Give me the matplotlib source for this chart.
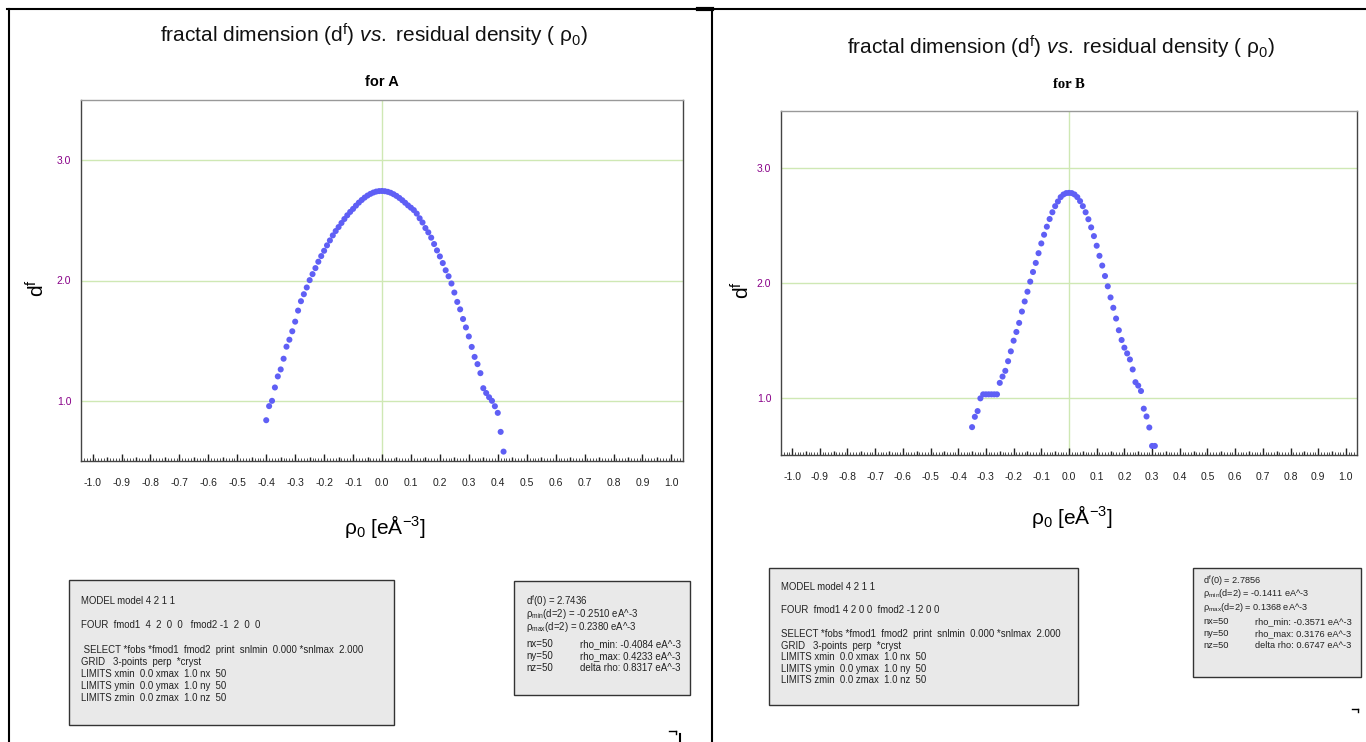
import matplotlib
matplotlib.use('Agg')
import matplotlib.pyplot as plt
from matplotlib.lines import Line2D
from matplotlib.patches import Rectangle
from matplotlib.ticker import MultipleLocator, FixedLocator

plt.rcParams['font.family'] = ['Liberation Sans', 'DejaVu Sans']
plt.rcParams['mathtext.fontset'] = 'custom'
plt.rcParams['mathtext.rm'] = 'Liberation Sans'
plt.rcParams['mathtext.it'] = 'Liberation Sans:italic'
plt.rcParams['mathtext.bf'] = 'Liberation Sans:bold'
plt.rcParams['mathtext.default'] = 'regular'

# fractal dimension vs residual density, structure A
rho_a = [-0.40, -0.39, -0.38, -0.37, -0.36, -0.35, -0.34, -0.33, -0.32, -0.31,
         -0.30, -0.29, -0.28, -0.27, -0.26, -0.25, -0.24, -0.23, -0.22, -0.21,
         -0.20, -0.19, -0.18, -0.17, -0.16, -0.15, -0.14, -0.13, -0.12, -0.11,
         -0.10, -0.09, -0.08, -0.07, -0.06, -0.05, -0.04, -0.03, -0.02, -0.01,
         0.00, 0.01, 0.02, 0.03, 0.04, 0.05, 0.06, 0.07, 0.08, 0.09,
         0.10, 0.11, 0.12, 0.13, 0.14, 0.15, 0.16, 0.17, 0.18, 0.19,
         0.20, 0.21, 0.22, 0.23, 0.24, 0.25, 0.26, 0.27, 0.28, 0.29,
         0.30, 0.31, 0.32, 0.33, 0.34, 0.35, 0.36, 0.37, 0.38, 0.39,
         0.40, 0.41, 0.42]
df_a = [0.839, 0.956, 1.000, 1.111, 1.203, 1.261, 1.350, 1.450, 1.508, 1.578,
        1.658, 1.750, 1.828, 1.886, 1.942, 2.003, 2.053, 2.103, 2.156, 2.203,
        2.247, 2.292, 2.333, 2.375, 2.411, 2.444, 2.478, 2.511, 2.542, 2.570,
        2.595, 2.622, 2.647, 2.669, 2.689, 2.706, 2.720, 2.731, 2.739, 2.743,
        2.744, 2.742, 2.737, 2.729, 2.717, 2.703, 2.686, 2.667, 2.646, 2.624,
        2.605, 2.585, 2.556, 2.517, 2.482, 2.436, 2.400, 2.356, 2.303, 2.250,
        2.200, 2.145, 2.085, 2.035, 1.975, 1.900, 1.822, 1.760, 1.680, 1.610,
        1.535, 1.448, 1.365, 1.305, 1.230, 1.105, 1.065, 1.030, 1.000, 0.955,
        0.900, 0.742, 0.578]

# structure B
rho_b = [-0.35, -0.34, -0.33, -0.32, -0.31, -0.30, -0.29, -0.28, -0.27, -0.26,
         -0.25, -0.24, -0.23, -0.22, -0.21, -0.20, -0.19, -0.18, -0.17, -0.16,
         -0.15, -0.14, -0.13, -0.12, -0.11, -0.10, -0.09, -0.08, -0.07, -0.06,
         -0.05, -0.04, -0.03, -0.02, -0.01, 0.00, 0.01, 0.02, 0.03, 0.04,
         0.05, 0.06, 0.07, 0.08, 0.09, 0.10, 0.11, 0.12, 0.13, 0.14,
         0.15, 0.16, 0.17, 0.18, 0.19, 0.20, 0.21, 0.22, 0.23, 0.24,
         0.25, 0.26, 0.27, 0.28, 0.29, 0.30, 0.31]
df_b = [0.743, 0.833, 0.883, 0.994, 1.029, 1.029, 1.029, 1.029, 1.029, 1.029,
        1.129, 1.184, 1.234, 1.318, 1.404, 1.497, 1.573, 1.652, 1.751, 1.839,
        1.924, 2.012, 2.096, 2.175, 2.260, 2.345, 2.421, 2.491, 2.558, 2.617,
        2.670, 2.711, 2.749, 2.772, 2.784, 2.786, 2.784, 2.772, 2.749, 2.714,
        2.670, 2.617, 2.556, 2.485, 2.409, 2.325, 2.237, 2.152, 2.061, 1.971,
        1.874, 1.784, 1.690, 1.588, 1.503, 1.436, 1.386, 1.333, 1.246, 1.135,
        1.105, 1.058, 0.904, 0.836, 0.740, 0.579, 0.579]

x_ticks = [-1.0, -0.9, -0.8, -0.7, -0.6, -0.5, -0.4, -0.3, -0.2, -0.1, 0.0,
           0.1, 0.2, 0.3, 0.4, 0.5, 0.6, 0.7, 0.8, 0.9, 1.0]
half_ticks = [-0.95, -0.85, -0.75, -0.65, -0.55, -0.45, -0.35, -0.25, -0.15, -0.05,
              0.05, 0.15, 0.25, 0.35, 0.45, 0.55, 0.65, 0.75, 0.85, 0.95]
y_ticks = [1.0, 2.0, 3.0]

# text of the input / result boxes
model_lines = ['MODEL model 4 2 1 1',
               '',
               'FOUR  fmod1  4  2  0  0   fmod2 -1  2  0  0',
               '',
               ' SELECT *fobs *fmod1  fmod2  print  snlmin  0.000 *snlmax  2.000',
               'GRID   3-points  perp  *cryst',
               'LIMITS xmin  0.0 xmax  1.0 nx  50',
               'LIMITS ymin  0.0 ymax  1.0 ny  50',
               'LIMITS zmin  0.0 zmax  1.0 nz  50']
model_lines_b = ['MODEL model 4 2 1 1',
                 '',
                 'FOUR  fmod1 4 2 0 0  fmod2 -1 2 0 0',
                 '',
                 'SELECT *fobs *fmod1  fmod2  print  snlmin  0.000 *snlmax  2.000',
                 'GRID   3-points  perp  *cryst',
                 'LIMITS xmin  0.0 xmax  1.0 nx  50',
                 'LIMITS ymin  0.0 ymax  1.0 ny  50',
                 'LIMITS zmin  0.0 zmax  1.0 nz  50']
res_a = ['d$^f$(0) = 2.7436', 'ρ$_{min}$(d=2) = -0.2510 eA^-3', 'ρ$_{max}$(d=2) = 0.2380 eA^-3']
res_b = ['d$^f$(0) = 2.7856', 'ρ$_{min}$(d=2) = -0.1411 eA^-3', 'ρ$_{max}$(d=2) = 0.1368 eA^-3']
grid_n = ['nx=50', 'ny=50', 'nz=50']
stats_a = ['rho_min: -0.4084 eA^-3', 'rho_max: 0.4233 eA^-3', 'delta rho: 0.8317 eA^-3']
stats_b = ['rho_min: -0.3571 eA^-3', 'rho_max: 0.3176 eA^-3', 'delta rho: 0.6747 eA^-3']

W, H = 1366, 742
fig = plt.figure(figsize=(W / 100, H / 100), dpi=100)


def fp(x, y):
    # pixel position -> figure fraction
    return x / W, 1 - y / H


def line(x1, y1, x2, y2, lw=1.5):
    a, b = fp(x1, y1)
    c, d = fp(x2, y2)
    fig.add_artist(Line2D([a, c], [b, d], transform=fig.transFigure, color='black', lw=lw))


def panel(l, t, r, b, rho, df, subtitle, sub_font, title_y, sub_y, xlab_y, ylab_x):
    ax = fig.add_axes([l / W, 1 - b / H, (r - l) / W, (b - t) / H])
    for g in y_ticks:
        ax.axhline(g, color='#cfe8b4', lw=1, zorder=0)
    ax.axvline(0.0, color='#cfe8b4', lw=1, zorder=0)
    ax.scatter(rho, df, s=19, color='#5f5ff5', edgecolors='none', zorder=3)
    ax.set_xlim(-1.04, 1.04)
    ax.set_ylim(0.5, 3.5)

    ax.xaxis.set_major_locator(FixedLocator(x_ticks + half_ticks))
    ax.xaxis.set_minor_locator(MultipleLocator(0.01))
    ax.set_xticklabels(['%.1f' % v for v in x_ticks] + [''] * len(half_ticks))
    ax.tick_params(axis='x', which='major', direction='in', length=5, width=1,
                   labelsize=7.5, pad=12, colors='#222222')
    ax.tick_params(axis='x', which='minor', direction='in', length=2, width=0.6, colors='#333333')
    for tk in ax.xaxis.get_major_ticks()[len(x_ticks):]:
        tk.tick1line.set_markersize(3.2)
    ax.set_yticks(y_ticks)
    ax.set_yticklabels(['%.1f' % v for v in y_ticks])
    ax.tick_params(axis='y', length=0, labelsize=7.5, labelcolor='#880088', pad=7)
    for s in ax.spines.values():
        s.set_color('#444444')
        s.set_linewidth(1)
    ax.spines['top'].set_color('#999999')

    ax.set_ylabel('d$^f$', fontsize=15)
    ax.yaxis.set_label_coords(ylab_x, 0.48)
    ax.set_xlabel('ρ$_0$ [eÅ$^{-3}$]', fontsize=15)
    ax.xaxis.set_label_coords(0.505, (b - xlab_y) / (b - t))
    ax.xaxis.label.set_va('center')

    cx = (l + r) / 2
    fig.text(*fp(cx - 8, title_y), 'fractal dimension (d$^f$) $\\it{vs.}$ residual density ( ρ$_0$)',
             fontsize=15, ha='center', va='center', color='#111111')
    fig.text(*fp(cx, sub_y), subtitle, fontsize=10.5, fontweight='bold', family=sub_font,
             ha='center', va='center')
    return ax


def text_box(l, t, r, b):
    a, c = fp(l, b)
    fig.add_artist(Rectangle((a, c), (r - l) / W, (b - t) / H, transform=fig.transFigure,
                             facecolor='#e9e9e9', edgecolor='#333333', lw=1))


panel(81, 100, 683, 461, rho_a, df_a, 'for A', 'Liberation Sans', 35, 82, 527, -0.054)
panel(781, 111, 1357, 455, rho_b, df_b, 'for B', 'Liberation Serif', 47, 85, 517, -0.048)

# input boxes
text_box(69, 580, 394, 725)
ys = [601, 613, 625, 637, 650, 662, 674, 686, 698]
for s, y in zip(model_lines, ys):
    fig.text(*fp(81, y), s, fontsize=6.9, va='center', ha='left', color='#222222')

text_box(769, 568, 1078, 705)
ys = [587, 598, 610, 622, 634, 646, 657, 669, 680]
for s, y in zip(model_lines_b, ys):
    fig.text(*fp(781, y), s, fontsize=6.9, va='center', ha='left', color='#222222')

# result boxes
text_box(514, 581, 690, 695)
for s, y in zip(res_a, [601, 614, 627]):
    fig.text(*fp(526, y), s, fontsize=6.9, va='center', ha='left', color='#222222')
for s1, s2, y in zip(grid_n, stats_a, [644, 656, 668]):
    fig.text(*fp(526, y), s1, fontsize=7.0, va='center', ha='left', color='#222222')
    fig.text(*fp(580, y), s2, fontsize=7.0, va='center', ha='left', color='#222222')

text_box(1193, 568, 1361, 677)
for s, y in zip(res_b, [581, 594, 607]):
    fig.text(*fp(1203, y), s, fontsize=6.6, va='center', ha='left', color='#222222')
for s1, s2, y in zip(grid_n, stats_b, [622, 634, 646]):
    fig.text(*fp(1203, y), s1, fontsize=6.7, va='center', ha='left', color='#222222')
    fig.text(*fp(1255, y), s2, fontsize=6.7, va='center', ha='left', color='#222222')

# page frame lines
line(7, 9, 1366, 9)
line(9, 9, 9, 742)
line(712, 9, 712, 742)
line(698, 9, 712, 9, lw=3)
line(669, 731, 676, 731, lw=1)
line(676, 731, 676, 734, lw=1)
line(680, 734, 680, 742, lw=1.5)
line(1352, 709, 1358, 709, lw=1)
line(1358, 709, 1358, 712, lw=1)

fig.savefig('out.png', dpi=100)
